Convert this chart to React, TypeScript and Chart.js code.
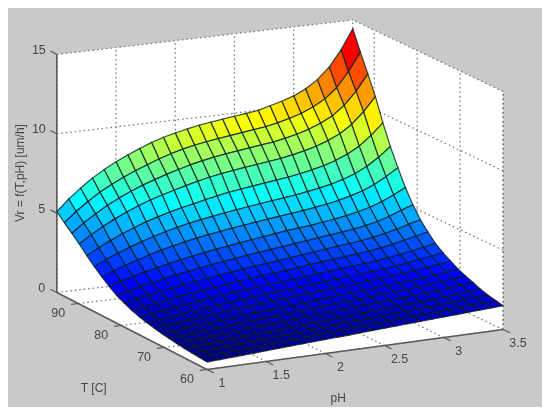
import React, { useEffect, useRef } from "react";
import { Chart, registerables } from "chart.js";
Chart.register(...registerables);

const phValues = [1,1.1,1.2,1.3,1.4,1.5,1.6,1.7,1.8,1.9,2,2.1,2.2,2.3,2.4,2.5,2.6,2.7,2.8,2.9,3,3.1,3.2,3.3,3.4,3.5];
const tValues = [60,61.75,63.5,65.25,67,68.75,70.5,72.25,74,75.75,77.5,79.25,81,82.75,84.5,86.25,88,89.75,91.5,93.25,95];
// Vr, one row per T, one column per pH
const vr: number[][] = [
[.47,.51,.55,.59,.63,.68,.72,.76,.80,.84,.88,.92,.96,1.01,1.05,1.09,1.13,1.17,1.21,1.25,1.29,1.33,1.38,1.42,1.46,1.5],
[.51,.55,.59,.63,.68,.73,.77,.82,.86,.90,.94,.99,1.03,1.08,1.12,1.17,1.21,1.25,1.29,1.33,1.37,1.42,1.47,1.51,1.56,1.61],
[.55,.59,.64,.69,.73,.79,.83,.88,.93,.97,1.02,1.06,1.10,1.16,1.20,1.25,1.29,1.33,1.38,1.43,1.47,1.52,1.57,1.62,1.67,1.72],
[.59,.64,.69,.74,.79,.85,.90,.95,1.00,1.05,1.10,1.14,1.19,1.24,1.29,1.34,1.38,1.43,1.48,1.53,1.57,1.62,1.68,1.74,1.80,1.86],
[.66,.72,.78,.83,.89,.95,1.01,1.06,1.12,1.17,1.22,1.27,1.32,1.38,1.43,1.48,1.53,1.58,1.63,1.68,1.73,1.79,1.85,1.92,1.99,2.06],
[.73,.79,.85,.92,.98,1.05,1.11,1.17,1.23,1.28,1.34,1.39,1.45,1.50,1.56,1.62,1.67,1.72,1.77,1.82,1.88,1.94,2.01,2.08,2.16,2.25],
[.80,.88,.95,1.01,1.08,1.16,1.22,1.29,1.35,1.41,1.46,1.53,1.58,1.64,1.71,1.77,1.82,1.88,1.93,1.98,2.04,2.11,2.19,2.27,2.36,2.46],
[.90,.99,1.07,1.14,1.22,1.31,1.38,1.45,1.52,1.59,1.65,1.71,1.77,1.83,1.90,1.97,2.03,2.08,2.14,2.20,2.27,2.35,2.43,2.53,2.63,2.75],
[1.00,1.10,1.19,1.28,1.36,1.46,1.54,1.62,1.70,1.77,1.83,1.90,1.96,2.03,2.10,2.17,2.23,2.30,2.36,2.42,2.50,2.58,2.68,2.80,2.91,3.04],
[1.13,1.24,1.35,1.45,1.54,1.65,1.74,1.83,1.92,2.00,2.06,2.13,2.20,2.27,2.35,2.42,2.49,2.56,2.62,2.69,2.77,2.86,2.98,3.11,3.25,3.40],
[1.29,1.43,1.56,1.68,1.79,1.92,2.01,2.10,2.20,2.29,2.37,2.45,2.52,2.59,2.68,2.77,2.85,2.92,3.00,3.08,3.15,3.26,3.39,3.56,3.73,3.89],
[1.50,1.67,1.82,1.95,2.07,2.21,2.32,2.43,2.54,2.63,2.72,2.81,2.90,2.98,3.07,3.16,3.24,3.33,3.42,3.50,3.58,3.70,3.85,4.03,4.24,4.44],
[1.74,1.95,2.13,2.29,2.43,2.60,2.72,2.84,2.96,3.07,3.16,3.27,3.36,3.45,3.54,3.63,3.72,3.81,3.90,3.99,4.08,4.21,4.38,4.60,4.90,5.15],
[2.06,2.31,2.54,2.72,2.88,3.06,3.20,3.34,3.48,3.60,3.70,3.82,3.92,4.02,4.12,4.22,4.30,4.37,4.47,4.58,4.70,4.86,5.05,5.30,5.64,6.02],
[2.43,2.73,2.99,3.23,3.45,3.67,3.84,4.01,4.15,4.28,4.39,4.51,4.60,4.71,4.80,4.89,4.98,5.07,5.18,5.30,5.44,5.63,5.85,6.16,6.57,7.04],
[2.84,3.20,3.51,3.80,4.05,4.29,4.50,4.68,4.85,4.99,5.11,5.23,5.34,5.44,5.54,5.64,5.73,5.82,5.94,6.07,6.23,6.44,6.71,7.07,7.56,8.15],
[3.28,3.70,4.06,4.40,4.69,4.97,5.20,5.41,5.59,5.75,5.92,6.07,6.21,6.32,6.42,6.52,6.62,6.71,6.84,6.99,7.16,7.40,7.71,8.13,8.72,9.42],
[3.78,4.28,4.71,5.10,5.44,5.75,6.02,6.25,6.46,6.66,6.85,7.01,7.15,7.26,7.37,7.46,7.56,7.66,7.80,7.96,8.16,8.43,8.77,9.27,9.98,10.85],
[4.21,4.78,5.26,5.71,6.08,6.42,6.72,6.98,7.22,7.44,7.64,7.81,7.96,8.07,8.17,8.27,8.37,8.46,8.61,8.78,9.00,9.30,9.67,10.24,11.04,12.05],
[4.64,5.26,5.80,6.30,6.70,7.07,7.39,7.68,7.95,8.20,8.40,8.56,8.69,8.80,8.90,9.00,9.10,9.20,9.35,9.54,9.77,10.09,10.5,11.13,12.05,13.2],
[5.1,5.8,6.4,6.95,7.4,7.8,8.15,8.47,8.76,9.0,9.18,9.35,9.5,9.6,9.7,9.8,9.9,10.0,10.2,10.4,10.65,11.0,11.5,12.2,13.2,14.45],
];

const phTicks = [1, 1.5, 2, 2.5, 3, 3.5];
const tTicks = [60, 70, 80, 90];
const vrTicks = [0, 5, 10, 15];
const phLabels = ["1", "1.5", "2", "2.5", "3", "3.5"];
const tLabels = ["60", "70", "80", "90"];
const vrLabels = ["0", "5", "10", "15"];

const PH_MIN = 1, PH_MAX = 3.5, T_MIN = 60, T_MAX = 95, V_MAX = 15;

// 3D view: turns (pH, T, Vr) into the values plotted on the two linear scales
function view(p: number, t: number, v: number) {
  const a = p - PH_MIN, b = t - T_MIN;
  return {
    x: 207 + 118.4 * a - 4.29 * b,
    y: 369.5 - 16 * a - 2.2 * b + 0.063 * a * b - 15.87 * v,
  };
}

function jet(u: number) {
  const c = (k: number) => Math.round(255 * Math.max(0, Math.min(1, 1.5 - Math.abs(4 * u - k))));
  return `rgb(${c(3)},${c(2)},${c(1)})`;
}

const base = { type: "line", pointRadius: 0, pointHitRadius: 0, tension: 0, spanGaps: true };

function seg(a: number[], b: number[], color: string, width: number, dash: number[] = []) {
  return { ...base, data: [view(a[0], a[1], a[2]), view(b[0], b[1], b[2])], borderColor: color, borderWidth: width, borderDash: dash, fill: false };
}

function buildDatasets() {
  const vmin = Math.min(...vr.flat());
  const cells: any[] = [];
  // the first dataset is painted last, so the nearest cells come first
  for (let i = 0; i < tValues.length - 1; i++) {
    for (let j = 0; j < phValues.length - 1; j++) {
      const avg = (vr[i][j] + vr[i][j + 1] + vr[i + 1][j] + vr[i + 1][j + 1]) / 4;
      cells.push({
        ...base,
        data: [
          view(phValues[j], tValues[i], vr[i][j]),
          view(phValues[j + 1], tValues[i], vr[i][j + 1]),
          view(phValues[j + 1], tValues[i + 1], vr[i + 1][j + 1]),
          view(phValues[j], tValues[i + 1], vr[i + 1][j]),
          view(phValues[j], tValues[i], vr[i][j]),
        ],
        fill: "shape",
        backgroundColor: jet((avg - vmin) / (V_MAX - vmin)),
        borderColor: "rgba(10,30,30,0.8)",
        borderWidth: 1.2,
      });
    }
  }
  const axisColor = "#5a5a5a";
  const axes = [
    seg([PH_MIN, T_MAX, 0], [PH_MIN, T_MAX, V_MAX], axisColor, 1.6),
    seg([PH_MIN, T_MIN, 0], [PH_MIN, T_MAX, 0], axisColor, 1.6),
    seg([PH_MIN, T_MIN, 0], [PH_MAX, T_MIN, 0], axisColor, 1.6),
    ...vrTicks.map((v) => seg([PH_MIN, T_MAX, v], [PH_MIN, T_MAX + 1.5, v], axisColor, 1.2)),
    ...tTicks.map((t) => seg([PH_MIN, t, 0], [PH_MIN - 0.06, t, 0], axisColor, 1.2)),
    ...phTicks.map((p) => seg([p, T_MIN, 0], [p, T_MIN - 1.6, 0], axisColor, 1.2)),
  ];
  const dotColor = "#77797a";
  const dots = [1.5, 3];
  const grid = [
    ...phTicks.slice(1).map((p) => seg([p, T_MIN, 0], [p, T_MAX, 0], dotColor, 1.3, dots)),
    ...phTicks.map((p) => seg([p, T_MAX, 0], [p, T_MAX, V_MAX], dotColor, 1.3, dots)),
    ...tTicks.concat(T_MAX).map((t) => seg([PH_MIN, t, 0], [PH_MAX, t, 0], dotColor, 1.3, dots)),
    ...tTicks.concat(T_MIN).map((t) => seg([PH_MAX, t, 0], [PH_MAX, t, V_MAX], dotColor, 1.3, dots)),
    ...vrTicks.slice(1).flatMap((v) => [
      seg([PH_MIN, T_MAX, v], [PH_MAX, T_MAX, v], dotColor, 1.3, dots),
      seg([PH_MAX, T_MIN, v], [PH_MAX, T_MAX, v], dotColor, 1.3, dots),
    ]),
  ];
  const pane = (pts: number[][]) => ({
    ...base,
    data: pts.map((q) => view(q[0], q[1], q[2])),
    fill: "shape",
    backgroundColor: "#ffffff",
    borderWidth: 0,
    borderColor: "#ffffff",
  });
  const panes = [
    pane([[PH_MIN, T_MAX, 0], [PH_MAX, T_MAX, 0], [PH_MAX, T_MAX, V_MAX], [PH_MIN, T_MAX, V_MAX], [PH_MIN, T_MAX, 0]]),
    pane([[PH_MAX, T_MAX, 0], [PH_MAX, T_MIN, 0], [PH_MAX, T_MIN, V_MAX], [PH_MAX, T_MAX, V_MAX], [PH_MAX, T_MAX, 0]]),
    pane([[PH_MIN, T_MIN, 0], [PH_MAX, T_MIN, 0], [PH_MAX, T_MAX, 0], [PH_MIN, T_MAX, 0], [PH_MIN, T_MIN, 0]]),
  ];
  return [...cells, ...axes, ...grid, ...panes];
}

const textPlugin = {
  id: "axisText",
  beforeDraw(chart: any) {
    const { ctx, width, height } = chart;
    ctx.save();
    ctx.fillStyle = "#c9c9c9";
    ctx.fillRect(0, 0, width, height);
    ctx.restore();
  },
  afterDraw(chart: any) {
    const { ctx, scales } = chart;
    const px = (q: { x: number; y: number }) => [scales.x.getPixelForValue(q.x), scales.y.getPixelForValue(q.y)];
    const put = (text: string, q: { x: number; y: number }, dx: number, dy: number) => {
      const [x, y] = px(q);
      ctx.fillText(text, x + dx, y + dy);
    };
    ctx.save();
    ctx.font = "12.5px 'Liberation Sans', Arial, sans-serif";
    ctx.fillStyle = "#474747";
    ctx.textAlign = "center";
    ctx.textBaseline = "middle";
    vrTicks.forEach((v, i) => put(vrLabels[i], view(PH_MIN, T_MAX, v), v >= 10 ? -18 : -15, -4));
    tTicks.forEach((t, i) => put(tLabels[i], view(PH_MIN, t, 0), -20, 10));
    phTicks.forEach((p, i) => put(phLabels[i], view(p, T_MIN, 0), 15, 14.5));
    ctx.font = "12px 'Liberation Sans', Arial, sans-serif";
    put("T [C]", view(PH_MIN, 75, 0), -49, 52);
    put("pH", view(2.15, T_MIN, 0), -5, 48);
    const [lx, ly] = px({ x: 21, y: 173 });
    ctx.translate(lx, ly);
    ctx.rotate(-Math.PI / 2);
    ctx.fillText("Vr = f(T,pH) [um/h]", 0, 0);
    ctx.restore();
  },
};

export default function App() {
  const ref = useRef<HTMLCanvasElement>(null);
  useEffect(() => {
    const chart = new Chart(ref.current as HTMLCanvasElement, {
      type: "line",
      data: { datasets: buildDatasets() as any },
      options: {
        animation: false,
        responsive: false,
        devicePixelRatio: 1,
        events: [],
        layout: { padding: 0 },
        plugins: { legend: { display: false }, tooltip: { enabled: false }, title: { display: false } },
        scales: {
          x: { type: "linear", display: false, min: 8, max: 542 },
          y: { type: "linear", display: false, min: 8, max: 407, reverse: true },
        },
      },
      plugins: [textPlugin as any],
    });
    return () => chart.destroy();
  }, []);
  return <canvas ref={ref} width={534} height={399} style={{ display: "block", filter: "blur(0.55px)" }} />;
}
